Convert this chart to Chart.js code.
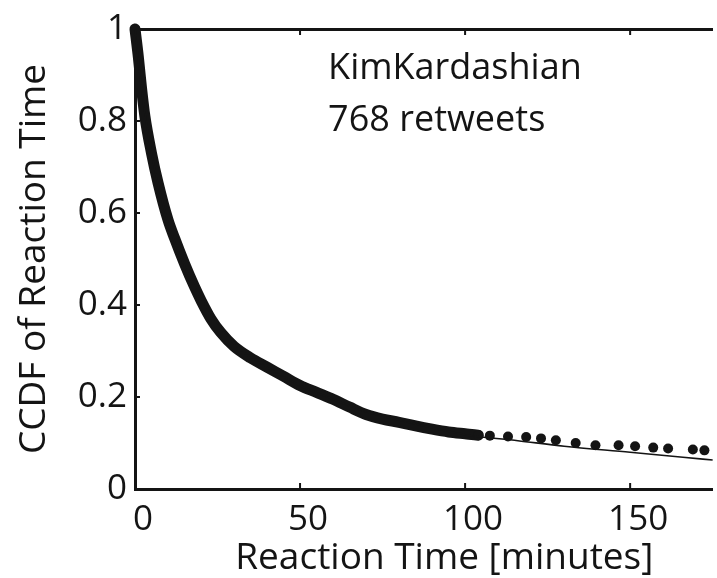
<!DOCTYPE html>
<html>
<head>
<meta charset="utf-8">
<script src="https://cdn.jsdelivr.net/npm/chart.js@4"></script>
<style>
  body { margin: 0; background: #fff; }
  canvas { display: block; }
</style>
</head>
<body>
<canvas id="ccdfChart" width="717" height="578"></canvas>
<script>
// observed CCDF of reaction time (minutes)
const obsTimes = [0, 1, 2, 3, 5, 7, 10, 12, 15, 18, 20, 23, 26, 30, 35, 40, 45, 50, 55, 60, 65, 70,
    75, 80, 85, 90, 95, 100, 104, 107.5, 113, 118.5, 123, 127.5, 133.5, 139.5, 146.5, 151.5, 157, 161.5, 169, 172.5];
const obsCcdf = [1.0, 0.94, 0.87, 0.81, 0.73, 0.665, 0.585, 0.545, 0.49, 0.44, 0.41, 0.37, 0.34, 0.31, 0.285, 0.265, 0.245, 0.225, 0.21, 0.195, 0.178, 0.162,
    0.152, 0.145, 0.137, 0.13, 0.124, 0.12, 0.117, 0.116, 0.114, 0.113, 0.11, 0.106, 0.1, 0.095, 0.095, 0.093, 0.09, 0.088, 0.086, 0.084];

// model fit
const fitTimes = [0, 2, 5, 10, 15, 20, 25, 30, 40, 50, 60, 70, 80, 90, 100, 116, 130, 150, 166, 175];
const fitCcdf = [1.0, 0.87, 0.73, 0.58, 0.485, 0.415, 0.36, 0.315, 0.265, 0.225, 0.195, 0.168, 0.15, 0.133, 0.118, 0.105, 0.093, 0.08, 0.069, 0.063];

const xTicks = [0, 50, 100, 150];
const yTicks = [0, 0.2, 0.4, 0.6, 0.8, 1];
const noteLines = ['KimKardashian', '768 retweets'];
const xTitle = 'Reaction Time [minutes]';

const FONT = '"Open Sans", "Noto Sans", sans-serif';
const INK = '#141414';
const denseEnd = 104; // observed points are drawn as a solid band up to here
const xMax = 174.8;   // the original figure is cropped at the right edge
const xTitleCenter = 93.7; // centre of the (uncropped) original axis

const obsData = obsTimes.map((t, i) => ({ x: t, y: obsCcdf[i] }));
const fitData = fitTimes.map((t, i) => ({ x: t, y: fitCcdf[i] }));

// inward tick marks on all drawn axes
const innerTicks = {
    id: 'innerTicks',
    afterDraw(chart) {
        const { ctx, chartArea: a, scales } = chart;
        ctx.save();
        ctx.strokeStyle = INK;
        ctx.lineWidth = 2;
        xTicks.forEach(v => {
            if (v === 0) return;
            const px = scales.x.getPixelForValue(v);
            ctx.beginPath();
            ctx.moveTo(px, a.bottom); ctx.lineTo(px, a.bottom - 6);
            ctx.moveTo(px, a.top); ctx.lineTo(px, a.top + 6);
            ctx.stroke();
        });
        yTicks.forEach(v => {
            if (v === 0 || v === 1) return;
            const py = scales.y.getPixelForValue(v);
            ctx.beginPath();
            ctx.moveTo(a.left, py); ctx.lineTo(a.left + 5, py);
            ctx.stroke();
        });
        ctx.restore();
    }
};

// text note in the upper right of the plot, plus the x axis title
const note = {
    id: 'note',
    afterDraw(chart) {
        const { ctx, scales } = chart;
        ctx.save();
        ctx.fillStyle = INK;
        ctx.font = '36px ' + FONT;
        ctx.textAlign = 'left';
        ctx.textBaseline = 'alphabetic';
        const px = scales.x.getPixelForValue(58.5);
        ctx.fillText(noteLines[0], px, scales.y.getPixelForValue(0.892));
        ctx.fillText(noteLines[1], px, scales.y.getPixelForValue(0.778));

        ctx.font = '37px ' + FONT;
        ctx.textAlign = 'center';
        ctx.fillText(xTitle, scales.x.getPixelForValue(xTitleCenter), scales.x.bottom - 9);
        ctx.restore();
    }
};

new Chart(document.getElementById('ccdfChart').getContext('2d'), {
    type: 'scatter',
    data: {
        datasets: [{
            label: 'observed',
            data: obsData,
            showLine: true,
            cubicInterpolationMode: 'monotone',
            borderColor: INK,
            borderWidth: 11,
            borderCapStyle: 'round',
            borderJoinStyle: 'round',
            segment: {
                borderColor: c => c.p1.parsed.x <= denseEnd ? INK : 'rgba(0,0,0,0)'
            },
            pointRadius: obsTimes.map(t => t >= denseEnd ? 5 : 0),
            pointStyle: 'circle',
            backgroundColor: INK,
            pointBorderWidth: 0,
            clip: false,
            order: 1
        }, {
            label: 'fit',
            data: fitData,
            showLine: true,
            cubicInterpolationMode: 'monotone',
            borderColor: INK,
            borderWidth: 1.6,
            pointRadius: 0,
            clip: false,
            order: 0
        }]
    },
    options: {
        responsive: false,
        animation: false,
        devicePixelRatio: 1,
        layout: { padding: 0 },
        plugins: {
            legend: { display: false },
            tooltip: { enabled: false }
        },
        scales: {
            x: {
                type: 'linear',
                position: 'bottom',
                min: 0,
                max: xMax,
                afterBuildTicks: s => { s.ticks = xTicks.map(v => ({ value: v })); },
                afterFit: s => { s.height = 89; },
                grid: { display: false, drawTicks: false },
                border: { display: true, color: INK, width: 3 },
                ticks: {
                    color: INK,
                    font: { family: FONT, size: 35 },
                    padding: 10,
                    labelOffset: 8,
                    maxRotation: 0
                },
                title: { display: false }
            },
            xTop: {
                type: 'linear',
                position: 'top',
                min: 0,
                max: xMax,
                afterFit: s => { s.height = 25; },
                grid: { display: false, drawTicks: false },
                border: { display: true, color: INK, width: 3 },
                ticks: { display: false }
            },
            y: {
                type: 'linear',
                min: 0,
                max: 1,
                afterBuildTicks: s => { s.ticks = yTicks.map(v => ({ value: v })); },
                afterFit: s => { s.width = 135; },
                grid: { display: false, drawTicks: false },
                border: { display: true, color: INK, width: 3 },
                ticks: {
                    color: INK,
                    font: { family: FONT, size: 35 },
                    padding: 8,
                    callback: v => String(v)
                },
                title: {
                    display: true,
                    text: 'CCDF of Reaction Time',
                    color: INK,
                    font: { family: FONT, size: 37 },
                    padding: { top: 12, bottom: 0 }
                }
            }
        }
    },
    plugins: [innerTicks, note]
});
</script>
</body>
</html>
